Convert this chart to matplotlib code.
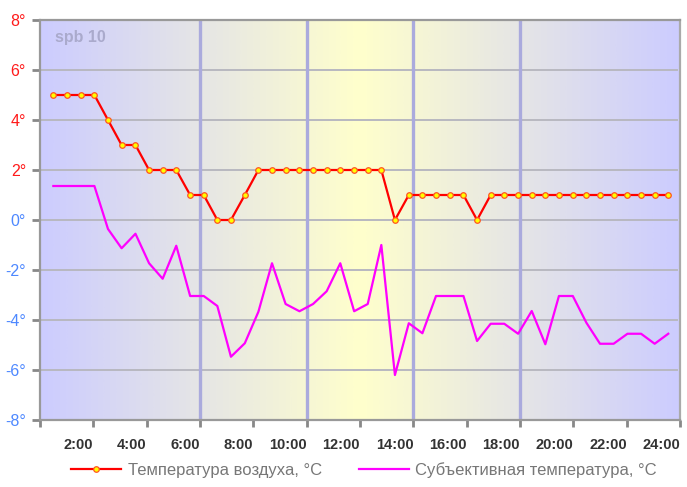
import numpy as np
import matplotlib
matplotlib.use("Agg")
import matplotlib.pyplot as plt
import matplotlib.transforms as mtransforms
from matplotlib.colors import LinearSegmentedColormap

plt.rcParams['font.family'] = ['Liberation Sans', 'DejaVu Sans']

# observation times, hours
hours = [0.50, 1.01, 1.53, 2.04, 2.55, 3.06, 3.58, 4.09, 4.60, 5.11,
         5.63, 6.14, 6.65, 7.16, 7.68, 8.19, 8.70, 9.21, 9.73, 10.24,
         10.75, 11.26, 11.78, 12.29, 12.80, 13.31, 13.83, 14.34, 14.85, 15.36,
         15.88, 16.39, 16.90, 17.41, 17.93, 18.44, 18.95, 19.46, 19.98, 20.49,
         21.00, 21.51, 22.03, 22.54, 23.05, 23.56]

# air temperature, C
air_temp = [5, 5, 5, 5, 4, 3, 3, 2, 2, 2,
            1, 1, 0, 0, 1, 2, 2, 2, 2, 2,
            2, 2, 2, 2, 2, 0, 1, 1, 1, 1,
            1, 0, 1, 1, 1, 1, 1, 1, 1, 1,
            1, 1, 1, 1, 1, 1]

# subjective (feels-like) temperature, C
feels_temp = [1.36, 1.36, 1.36, 1.36, -0.36, -1.13, -0.55, -1.73, -2.35, -1.03,
              -3.04, -3.04, -3.44, -5.47, -4.93, -3.67, -1.73, -3.36, -3.65, -3.36,
              -2.85, -1.73, -3.65, -3.36, -1.0, -6.2, -4.13, -4.53, -3.04, -3.04,
              -3.04, -4.84, -4.15, -4.15, -4.55, -3.64, -4.97, -3.04, -3.04, -4.11,
              -4.95, -4.95, -4.55, -4.55, -4.95, -4.55]

xtick_hours = [0, 2, 4, 6, 8, 10, 12, 14, 16, 18, 20, 22, 24]
xtick_labels = ['', '2:00', '4:00', '6:00', '8:00', '10:00', '12:00', '14:00',
                '16:00', '18:00', '20:00', '22:00', '24:00']
ytick_vals = [-8, -6, -4, -2, 0, 2, 4, 6, 8]
marker_hours = [6, 10, 14, 18]

fig = plt.figure(figsize=(6.87, 4.87), dpi=100)
ax = fig.add_axes([40/687, 67/487, 640/687, 400/487])

# day gradient background: blue -> yellow at noon -> blue
cmap = LinearSegmentedColormap.from_list('day', ['#ccccff', '#ffffcc', '#ccccff'])
grad = np.linspace(0, 1, 500).reshape(1, -1)
ax.imshow(grad, cmap=cmap, extent=[0, 24, -8, 8], aspect='auto', zorder=0)

for v in [-6, -4, -2, 0, 2, 4, 6]:
    ax.plot([0, 23.9], [v, v], color='#b8b8c0', lw=1.4, zorder=1)
for h in marker_hours:
    ax.axvline(h, color='#aaaadd', lw=2.4, zorder=1)

ax.plot(hours, air_temp, color='red', lw=1.6, marker='o', ms=4,
        mfc='yellow', mec='#ff5522', mew=0.9, zorder=4,
        label='Температура воздуха, °C')
ax.plot(hours, feels_temp, color='#ff00ff', lw=1.6, zorder=3,
        label='Субъективная температура, °C')

ax.set_xlim(0, 24)
ax.set_ylim(-8, 8)

ax.set_xticks(xtick_hours)
ax.set_xticklabels(xtick_labels, fontsize=10.5, fontweight='bold', color='#333333', ha='right')
offset = mtransforms.ScaledTranslation(3/100, 0, fig.dpi_scale_trans)
for lbl in ax.get_xticklabels():
    lbl.set_transform(lbl.get_transform() + offset)
ax.set_yticks(ytick_vals)
ax.set_yticklabels([f'{v}°' for v in ytick_vals], fontsize=11.5)
for v, lbl in zip(ytick_vals, ax.get_yticklabels()):
    lbl.set_color('#ff1a1a' if v > 0 else '#4d88ff')

ax.tick_params(axis='x', length=5, width=2, color='#888888', pad=8)
ax.tick_params(axis='y', length=6, width=2, color='#888888', pad=4)
for s in ax.spines.values():
    s.set_color('#999999')
    s.set_linewidth(1.6)
ax.spines['right'].set_color('#aaaaaa')

ax.text(0.55, 7.3, 'spb 10', fontsize=11.5, fontweight='bold', color='#aaaacc',
        ha='left', va='center', zorder=5)

fig.legend(loc='center', bbox_to_anchor=(0.53, 17/487), ncol=2, frameon=False,
           fontsize=12, handlelength=3.0, columnspacing=2.2, handletextpad=0.4,
           labelcolor='#777777')

fig.savefig('out.png', dpi=100)
